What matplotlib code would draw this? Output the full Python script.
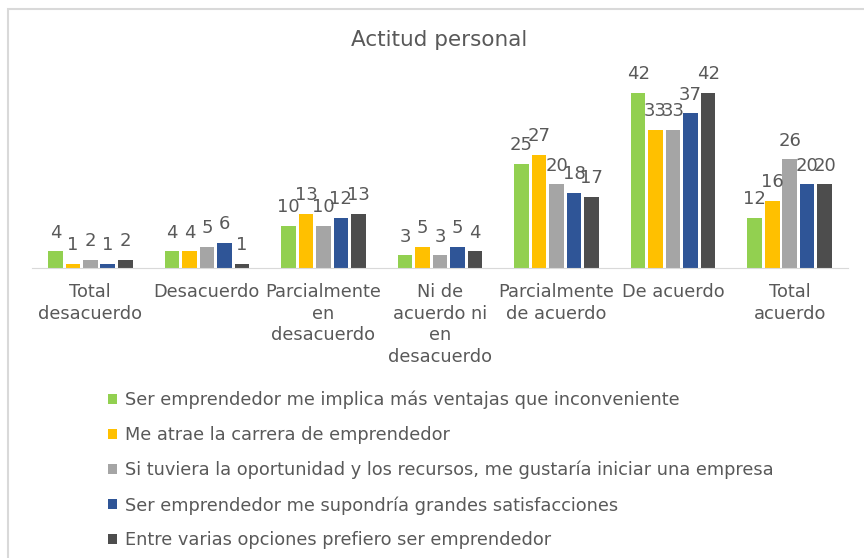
import numpy as np
import matplotlib.pyplot as plt
from matplotlib.patches import Rectangle

categories = ["Total\ndesacuerdo", "Desacuerdo", "Parcialmente\nen\ndesacuerdo",
              "Ni de\nacuerdo ni\nen\ndesacuerdo", "Parcialmente\nde acuerdo",
              "De acuerdo", "Total\nacuerdo"]
series_names = [
    "Ser emprendedor me implica más ventajas que inconveniente",
    "Me atrae la carrera de emprendedor",
    "Si tuviera la oportunidad y los recursos, me gustaría iniciar una empresa",
    "Ser emprendedor me supondría grandes satisfacciones",
    "Entre varias opciones prefiero ser emprendedor",
]
ventajas = [4, 4, 10, 3, 25, 42, 12]
carrera = [1, 4, 13, 5, 27, 33, 16]
oportunidad = [2, 5, 10, 3, 20, 33, 26]
satisfacciones = [1, 6, 12, 5, 18, 37, 20]
opciones = [2, 1, 13, 4, 17, 42, 20]
series = [ventajas, carrera, oportunidad, satisfacciones, opciones]
colors = ["#92D050", "#FFC000", "#A5A5A5", "#2F5597", "#4D4D4D"]

W, H = 864, 558
fig = plt.figure(figsize=(W / 100, H / 100), dpi=100)
# chart frame, cut off at right and bottom like the screenshot
fig.patches.append(Rectangle((8 / W, -0.1), 1.2, 1.1 - 9.5 / H, transform=fig.transFigure,
                             fill=False, edgecolor="#D9D9D9", linewidth=1.5))

# axes area in pixels: x 32..848, baseline at y 268, top 80
left, right, base, top = 32, 848, 268, 80
ax = fig.add_axes([left / W, 1 - base / H, (right - left) / W, (base - top) / H])
ax.set_xlim(-0.5, len(categories) - 0.5)
ax.set_ylim(0, 45)

x = np.arange(len(categories))
pitch = 0.15
width = 0.125
txt = "#595959"
for i, (vals, c, name) in enumerate(zip(series, colors, series_names)):
    pos = x + (i - 2) * pitch
    ax.bar(pos, vals, width=width, color=c, label=name)
    for p, v in zip(pos, vals):
        ax.annotate(str(v), (p, v), xytext=(0, 7), textcoords="offset points",
                    ha="center", va="bottom", fontsize=13, color=txt)

for s in ["top", "right", "left"]:
    ax.spines[s].set_visible(False)
ax.spines["bottom"].set_color("#D9D9D9")
ax.set_yticks([])
ax.set_xticks(x)
ax.set_xticklabels(categories, fontsize=12.8, color=txt, linespacing=1.25)
ax.tick_params(axis="x", length=0, pad=11)

fig.text(439 / W, 1 - 40 / H, "Actitud personal", ha="center", va="center",
         fontsize=15.5, color=txt)

handles, labels = ax.get_legend_handles_labels()
fig.legend(handles, labels, loc="upper left", bbox_to_anchor=(99 / W, 1 - 382 / H),
           frameon=False, fontsize=12.8, labelcolor=txt, handlelength=0.5,
           handleheight=0.5, handletextpad=0.45, labelspacing=0.94, borderpad=0)

fig.savefig("out.png", dpi=100)
